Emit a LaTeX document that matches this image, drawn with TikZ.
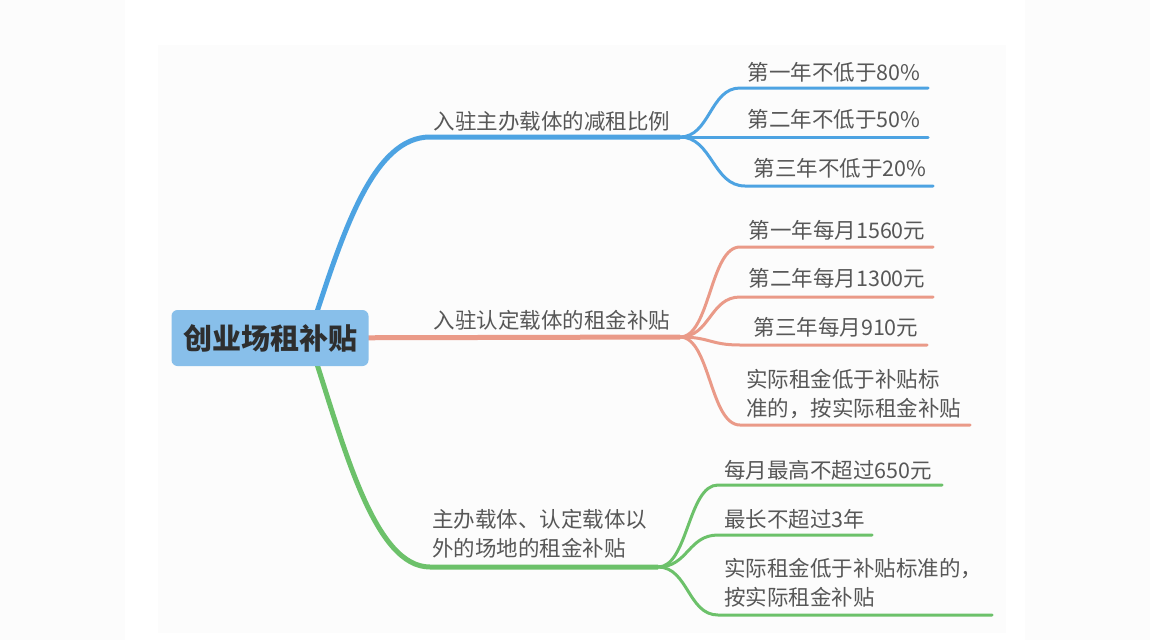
\documentclass[tikz,border=0pt]{standalone}
\usepackage{fontspec}
\setmainfont{Noto Sans CJK SC}
\usepackage{tikz}
\usetikzlibrary{positioning, backgrounds}

\definecolor{mapblue}{HTML}{4DA3E2}
\definecolor{maporange}{HTML}{EA9A88}
\definecolor{mapgreen}{HTML}{6CC16A}
\definecolor{rootfill}{HTML}{88BFEA}
\definecolor{rootink}{HTML}{2E2E2E}
\definecolor{mapgray}{HTML}{575757}
\definecolor{paper}{HTML}{FCFCFC}

\begin{document}
\begin{tikzpicture}[x=1pt, y=-1pt, line cap=round]
\tikzstyle{root}=[rectangle, rounded corners=6pt, fill=rootfill, text=rootink,
                  font=\fontsize{29}{34}\selectfont\bfseries,
                  minimum width=197pt, minimum height=56pt, inner sep=0pt]
\tikzstyle{topic}=[text=mapgray, font=\fontsize{21.5}{29}\selectfont,
                   inner sep=0pt, align=left]
\tikzstyle{branch}=[line width=5pt]
\tikzstyle{twig}=[line width=3pt]

  \useasboundingbox (0,0) rectangle (1150,640);

  % forks and line ends
  \coordinate (Bf) at (680,137);
  \coordinate (Of) at (680,337);
  \coordinate (Gf) at (658,567);
  \coordinate (B0) at (430,137);
  \coordinate (G0) at (430,567);
  \coordinate (B1s) at (740,88);  \coordinate (B1e) at (928,88);
  \coordinate (B2e) at (928,137);
  \coordinate (B3s) at (745,186); \coordinate (B3e) at (933,186);
  \coordinate (O1s) at (740,247); \coordinate (O1e) at (933,247);
  \coordinate (O2s) at (740,297); \coordinate (O2e) at (933,297);
  \coordinate (O3s) at (740,345); \coordinate (O3e) at (927,345);
  \coordinate (O4s) at (740,425); \coordinate (O4e) at (970,425);
  \coordinate (G1s) at (718,485); \coordinate (G1e) at (942,485);
  \coordinate (G2s) at (718,535); \coordinate (G2e) at (872,535);
  \coordinate (G3s) at (718,615); \coordinate (G3e) at (992,615);

  \node[root] (R) at (270,338) {创业场租补贴};

  \begin{scope}[on background layer]
  \fill[paper] (0,0) rectangle (125,640);
  \fill[paper] (1025,0) rectangle (1150,640);
  \fill[paper] (158,45) rectangle (1006,633);
  % main branches
  \draw[branch, mapblue] (R.center) ++(45,-20) .. controls (345,226) and (375,137) .. (B0) -- (Bf);
  \draw[branch, maporange] (R.center) -- (Of);
  \draw[branch, mapgreen] (R.center) ++(45,20) .. controls (345,450) and (375,567) .. (G0) -- (Gf);
  \end{scope}

  % twigs
  \draw[twig, mapblue] (Bf) .. controls +(30,0) and +(-30,0) .. (B1s) -- (B1e);
  \draw[twig, mapblue] (Bf) -- (B2e);
  \draw[twig, mapblue] (Bf) .. controls +(32,0) and +(-32,0) .. (B3s) -- (B3e);
  \draw[twig, maporange] (Of) .. controls +(30,0) and +(-30,0) .. (O1s) -- (O1e);
  \draw[twig, maporange] (Of) .. controls +(30,0) and +(-30,0) .. (O2s) -- (O2e);
  \draw[twig, maporange] (Of) .. controls +(30,0) and +(-30,0) .. (O3s) -- (O3e);
  \draw[twig, maporange] (Of) .. controls +(30,0) and +(-30,0) .. (O4s) -- (O4e);
  \draw[twig, mapgreen] (Gf) .. controls +(30,0) and +(-30,0) .. (G1s) -- (G1e);
  \draw[twig, mapgreen] (Gf) .. controls +(30,0) and +(-30,0) .. (G2s) -- (G2e);
  \draw[twig, mapgreen] (Gf) .. controls +(30,0) and +(-30,0) .. (G3s) -- (G3e);

  % topics
  \node[topic] (B) at (552,121) {入驻主办载体的减租比例};
  \node[topic] (O) at (552,320) {入驻认定载体的租金补贴};
  \node[topic, anchor=west] (G) at (432,534) {主办载体、认定载体以\\外的场地的租金补贴};

  \node[topic] (B1) at (834,72) {第一年不低于80\%};
  \node[topic] (B2) at (834,119) {第二年不低于50\%};
  \node[topic] (B3) at (840,168) {第三年不低于20\%};

  \node[topic] (O1) at (837,230) {第一年每月1560元};
  \node[topic] (O2) at (837,278) {第二年每月1300元};
  \node[topic] (O3) at (836,327) {第三年每月910元};
  \node[topic, anchor=west] (O4) at (746,394) {实际租金低于补贴标\\准的，按实际租金补贴};

  \node[topic, anchor=west] (G1) at (724,470) {每月最高不超过650元};
  \node[topic, anchor=west] (G2) at (724,519) {最长不超过3年};
  \node[topic, anchor=west] (G3) at (724,583) {实际租金低于补贴标准的，\\按实际租金补贴};
\end{tikzpicture}
\end{document}
